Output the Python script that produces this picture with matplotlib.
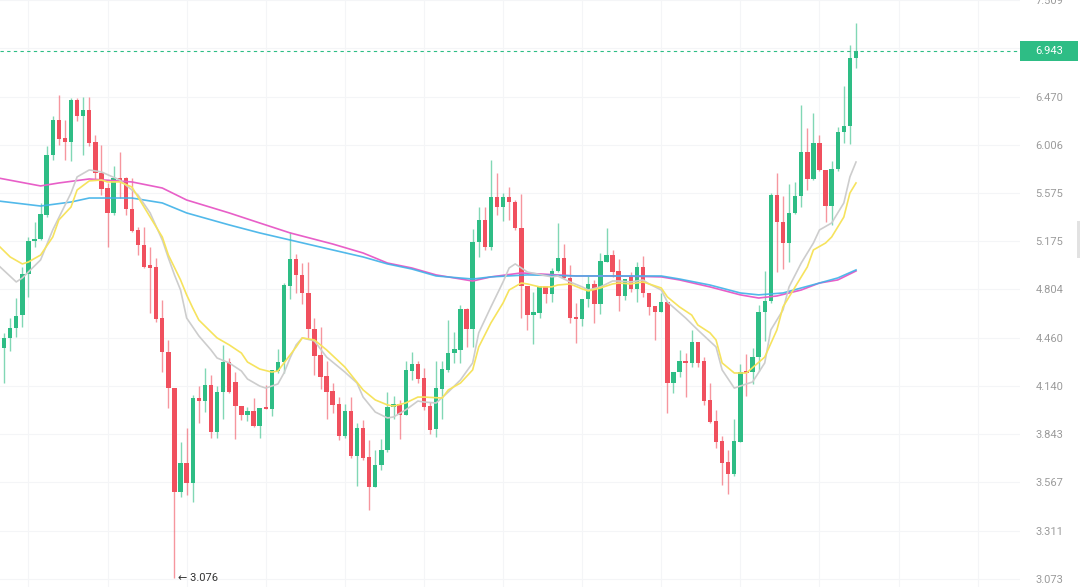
import matplotlib
matplotlib.use("Agg")
import matplotlib.pyplot as plt
from matplotlib.patches import Rectangle
from matplotlib.ticker import FixedLocator, FixedFormatter, NullLocator

# OHLC, one entry per candle
opens = [4.690, 4.389, 4.458, 4.527, 4.618, 4.920, 5.177, 5.193, 5.389, 5.912,
         6.240, 6.069, 6.032, 6.436, 6.279, 6.337, 6.032, 5.750, 5.618, 5.406,
         5.706, 5.706, 5.439, 5.266, 5.145, 4.989, 4.974, 4.597, 4.362, 4.126,
         3.515, 3.675, 3.564, 4.063, 4.044, 4.146, 3.855, 4.101, 4.295, 4.165,
         4.013, 3.958, 3.982, 3.891, 4.001, 3.995, 4.236, 4.295, 4.830, 5.035,
         4.913, 4.778, 4.520, 4.342, 4.204, 4.107, 4.026, 3.832, 3.982, 3.715,
         3.880, 3.710, 3.542, 3.664, 3.750, 4.007, 4.026, 3.958, 4.236, 4.282,
         4.191, 4.013, 3.873, 4.120, 4.243, 4.355, 4.376, 4.661, 4.520, 5.169,
         5.348, 5.129, 5.541, 5.456, 5.541, 5.498, 5.282, 4.830, 4.618, 4.633,
         4.830, 4.771, 4.943, 5.043, 4.890, 4.604, 4.590, 4.734, 4.845, 4.697,
         5.012, 5.066, 4.943, 4.756, 4.898, 4.808, 4.974, 4.778, 4.683, 4.640,
         4.712, 4.158, 4.229, 4.302, 4.289, 4.430, 4.302, 4.051, 3.922, 3.802,
         3.681, 3.614, 3.796, 4.236, 4.229, 4.328, 4.640, 4.719, 5.558, 5.331,
         5.161, 5.406, 5.550, 5.939, 5.697, 6.023, 5.777, 5.464, 5.786, 6.125,
         6.183, 6.867]
highs = [4.800, 4.493, 4.597, 4.741, 4.974, 5.209, 5.331, 5.490, 5.996, 6.279,
         6.485, 6.240, 6.456, 6.456, 6.466, 6.466, 6.097, 6.004, 5.662, 5.813,
         5.939, 5.715, 5.706, 5.290, 5.290, 5.129, 5.043, 4.727, 4.444, 4.126,
         3.796, 3.880, 4.082, 4.139, 4.256, 4.210, 4.139, 4.410, 4.322, 4.229,
         4.013, 4.007, 4.063, 4.001, 4.145, 4.243, 4.382, 4.852, 5.250, 5.074,
         5.004, 5.012, 4.597, 4.534, 4.302, 4.158, 4.069, 4.026, 4.069, 3.909,
         3.928, 3.808, 3.750, 3.814, 4.101, 4.076, 4.051, 4.302, 4.362, 4.302,
         4.256, 4.038, 4.302, 4.302, 4.583, 4.499, 4.690, 4.669, 5.274, 5.456,
         5.456, 5.866, 5.750, 5.575, 5.627, 5.515, 5.567, 4.830, 4.785, 4.830,
         4.830, 4.966, 5.323, 5.153, 4.989, 4.705, 4.734, 4.913, 4.875, 5.082,
         5.282, 5.106, 5.035, 4.882, 4.935, 5.012, 5.059, 4.778, 4.683, 4.778,
         4.712, 4.229, 4.376, 4.355, 4.513, 4.430, 4.328, 4.158, 3.989, 3.832,
         3.750, 3.934, 4.282, 4.349, 4.389, 4.690, 4.943, 5.575, 5.750, 5.550,
         5.653, 5.671, 6.386, 6.163, 6.307, 6.097, 5.777, 5.857, 6.173, 6.576,
         7.000, 7.247]
lows = [4.389, 4.158, 4.369, 4.465, 4.534, 4.749, 5.129, 5.185, 5.372, 5.866,
        6.004, 5.866, 5.858, 6.230, 5.912, 5.996, 5.688, 5.558, 5.129, 5.389,
        5.532, 5.389, 5.250, 5.066, 4.966, 4.633, 4.569, 4.229, 4.001, 3.076,
        3.487, 3.498, 3.460, 3.909, 3.976, 3.820, 3.820, 3.934, 4.095, 3.814,
        3.928, 3.922, 3.885, 3.820, 3.995, 3.952, 4.223, 4.223, 4.734, 4.778,
        4.697, 4.458, 4.210, 4.120, 3.934, 3.970, 3.808, 3.820, 3.704, 3.547,
        3.693, 3.418, 3.542, 3.636, 3.738, 3.934, 3.814, 3.958, 4.178, 4.158,
        3.989, 3.843, 3.826, 3.934, 4.229, 4.289, 4.289, 4.396, 4.396, 5.051,
        5.106, 5.106, 5.389, 5.339, 5.348, 5.266, 4.597, 4.513, 4.416, 4.597,
        4.705, 4.712, 4.935, 4.882, 4.562, 4.423, 4.541, 4.676, 4.562, 4.625,
        5.012, 4.898, 4.647, 4.727, 4.786, 4.712, 4.749, 4.618, 4.444, 4.640,
        3.970, 4.095, 4.197, 4.069, 4.262, 4.262, 4.020, 3.909, 3.761, 3.553,
        3.504, 3.603, 3.796, 4.076, 4.152, 4.236, 4.437, 4.705, 4.935, 4.958,
        5.012, 5.397, 5.456, 5.601, 5.688, 5.768, 5.331, 5.307, 5.768, 6.023,
        6.013, 6.762]
closes = [4.444, 4.458, 4.527, 4.611, 4.920, 5.177, 5.193, 5.397, 5.912, 6.240,
          6.060, 6.032, 6.436, 6.279, 6.337, 6.023, 5.750, 5.610, 5.406, 5.706,
          5.671, 5.439, 5.258, 5.145, 4.974, 4.966, 4.590, 4.362, 4.126, 3.515,
          3.675, 3.564, 4.063, 4.044, 4.146, 3.855, 4.101, 4.295, 4.101, 4.013,
          3.958, 3.982, 3.891, 4.001, 3.995, 4.243, 4.295, 4.837, 5.035, 4.913,
          4.778, 4.520, 4.335, 4.197, 4.101, 4.020, 3.832, 3.982, 3.715, 3.880,
          3.704, 3.542, 3.664, 3.750, 4.007, 4.026, 3.958, 4.243, 4.282, 4.184,
          4.007, 3.867, 4.126, 4.249, 4.355, 4.382, 4.661, 4.520, 5.169, 5.348,
          5.129, 5.541, 5.456, 5.541, 5.498, 5.282, 4.830, 4.618, 4.640, 4.830,
          4.771, 4.943, 5.043, 4.890, 4.597, 4.590, 4.734, 4.845, 4.697, 5.020,
          5.066, 4.935, 4.756, 4.882, 4.808, 4.974, 4.778, 4.676, 4.640, 4.712,
          4.158, 4.229, 4.302, 4.289, 4.430, 4.289, 4.044, 3.915, 3.796, 3.675,
          3.614, 3.802, 4.229, 4.223, 4.328, 4.640, 4.719, 5.558, 5.331, 5.161,
          5.406, 5.550, 5.939, 5.697, 6.023, 5.777, 5.464, 5.786, 6.125, 6.183,
          6.867, 6.943]

# moving average lines (candle index, value)
ma_gray_idx = [0, 3, 4, 7, 9, 12, 13, 15, 17, 20, 23, 25, 27, 28, 29, 30, 31, 33, 35, 36,
               38, 40, 41, 43, 44, 46, 47, 48, 49, 50, 52, 54, 57, 59, 60, 62, 64, 65, 67, 69,
               70, 72, 74, 76, 78, 79, 81, 83, 84, 85, 87, 91, 92, 94, 96, 97, 99, 101, 102, 104,
               106, 107, 109, 110, 113, 115, 118, 119, 121, 122, 124, 126, 127, 129, 130, 132, 134, 135, 137, 139,
               140, 141]
ma_gray = [4.989, 4.860, 4.890, 5.028, 5.266, 5.575, 5.715, 5.777, 5.759, 5.688,
           5.558, 5.406, 5.185, 5.043, 4.913, 4.800, 4.597, 4.472, 4.376, 4.322,
           4.289, 4.236, 4.184, 4.139, 4.126, 4.152, 4.223, 4.322, 4.410, 4.458,
           4.437, 4.328, 4.229, 4.158, 4.069, 3.976, 3.940, 3.946, 3.989, 4.044,
           4.038, 4.032, 4.101, 4.178, 4.289, 4.493, 4.676, 4.860, 4.966, 4.997,
           4.935, 4.898, 4.905, 4.860, 4.823, 4.800, 4.823, 4.867, 4.867, 4.860,
           4.875, 4.845, 4.800, 4.712, 4.597, 4.513, 4.396, 4.243, 4.126, 4.139,
           4.165, 4.289, 4.513, 4.654, 4.823, 5.004, 5.161, 5.266, 5.323, 5.490,
           5.715, 5.848]

ma_yellow_idx = [0, 2, 4, 5, 7, 9, 10, 12, 13, 15, 17, 18, 20, 22, 23, 25, 27, 28, 30, 31,
                 32, 33, 35, 36, 38, 40, 41, 43, 45, 46, 48, 49, 50, 52, 54, 57, 60, 62, 64, 65,
                 67, 69, 70, 73, 74, 76, 78, 79, 81, 83, 84, 86, 87, 89, 91, 92, 94, 96, 97, 99,
                 101, 102, 104, 106, 107, 109, 110, 112, 114, 115, 117, 118, 119, 121, 123, 126, 128, 129, 131, 133,
                 134, 136, 137, 139, 140, 141]
ma_yellow = [5.145, 5.051, 4.997, 5.012, 5.066, 5.209, 5.348, 5.456, 5.601, 5.680,
             5.688, 5.671, 5.671, 5.627, 5.541, 5.372, 5.209, 5.066, 4.875, 4.764,
             4.669, 4.583, 4.499, 4.458, 4.410, 4.355, 4.295, 4.249, 4.229, 4.236,
             4.342, 4.396, 4.458, 4.444, 4.376, 4.262, 4.114, 4.051, 4.020, 4.013,
             4.032, 4.069, 4.069, 4.063, 4.114, 4.158, 4.243, 4.396, 4.562, 4.705,
             4.800, 4.852, 4.845, 4.823, 4.823, 4.837, 4.845, 4.808, 4.793, 4.815,
             4.845, 4.852, 4.845, 4.860, 4.845, 4.815, 4.749, 4.676, 4.618, 4.548,
             4.493, 4.444, 4.289, 4.223, 4.223, 4.328, 4.513, 4.676, 4.823, 4.974,
             5.106, 5.161, 5.209, 5.372, 5.575, 5.662]

ma_pink_idx = [0, 7, 10, 15, 22, 27, 31, 38, 43, 48, 55, 60, 64, 68, 72, 78, 81, 86, 95, 102,
               109, 112, 117, 122, 125, 128, 132, 135, 138, 141]
ma_pink = [5.706, 5.636, 5.662, 5.697, 5.671, 5.618, 5.515, 5.406, 5.323, 5.242,
           5.153, 5.082, 5.004, 4.966, 4.913, 4.867, 4.898, 4.928, 4.905, 4.905,
           4.898, 4.875, 4.823, 4.764, 4.741, 4.756, 4.800, 4.852, 4.875, 4.943]

ma_blue_idx = [0, 7, 12, 15, 22, 27, 31, 38, 43, 48, 55, 60, 64, 68, 72, 78, 81, 87, 95, 102,
               109, 112, 117, 122, 125, 129, 132, 135, 138, 141]
ma_blue = [5.507, 5.464, 5.498, 5.532, 5.532, 5.490, 5.406, 5.307, 5.242, 5.185,
           5.106, 5.051, 4.997, 4.958, 4.905, 4.882, 4.898, 4.913, 4.905, 4.905,
           4.905, 4.882, 4.837, 4.778, 4.764, 4.778, 4.815, 4.852, 4.890, 4.951]

price_ticks = [3.073, 3.311, 3.567, 3.843, 4.140, 4.460, 4.804, 5.175, 5.575,
               6.006, 6.470, 6.970, 7.509]
vgrid_idx = [5, 18, 31, 44, 57, 70, 83, 96, 109, 122, 135, 148, 161]
last_price = 6.943
low_idx = 29
low_price = 3.076

GREEN = "#2ebd85"
RED = "#f0505e"

plt.rcParams["font.family"] = ["Roboto", "DejaVu Sans"]

fig = plt.figure(figsize=(10.8, 5.87), dpi=100)
fig.patch.set_facecolor("white")
ax = fig.add_axes([0, 0, 1020 / 1080, 1])
ax.set_yscale("log")
ax.set_ylim(3.0353, 7.509)
ax.set_xlim(0.33, 167.95)

# candles
for i in range(len(opens)):
    o, h, l, c = opens[i], highs[i], lows[i], closes[i]
    col = GREEN if c >= o else RED
    ax.vlines(i, l, h, color=col, lw=1.0, alpha=0.6, zorder=2)
    lo, hi = min(o, c), max(o, c)
    hgt = max(hi - lo, lo * 0.0025)
    ax.bar(i, hgt, bottom=lo, width=0.72, color=col, lw=0, zorder=2.5)

# moving averages
ax.plot(ma_pink_idx, ma_pink, color="#e85fc8", lw=1.2, zorder=3, solid_joinstyle="round")
ax.plot(ma_blue_idx, ma_blue, color="#3fb2e8", lw=1.2, alpha=0.9, zorder=3.1, solid_joinstyle="round")
ax.plot(ma_gray_idx, ma_gray, color="#cdcdcd", lw=1.2, zorder=3.2, solid_joinstyle="round")
ax.plot(ma_yellow_idx, ma_yellow, color="#f6e35e", lw=1.2, zorder=3.3, solid_joinstyle="round")

# last price dashed line
ax.axhline(last_price, color=GREEN, lw=0.8, ls=(0, (3, 3)), zorder=4)

# low marker
ax.text(low_idx + 0.55, low_price, "\u2190 3.076", va="center", ha="left",
        fontsize=8, color="#333333", zorder=5)

# axes styling
ax.yaxis.tick_right()
ax.yaxis.set_major_locator(FixedLocator(price_ticks))
ax.yaxis.set_major_formatter(FixedFormatter([f"{t:.3f}" for t in price_ticks]))
ax.yaxis.set_minor_locator(NullLocator())
ax.tick_params(axis="y", length=0, pad=11, labelsize=8, labelcolor="#9b9b9b")
ax.set_xticks(vgrid_idx)
ax.set_xticklabels([])
ax.tick_params(axis="x", length=0)
ax.grid(True, color="#f4f5f7", lw=0.8, zorder=0)
ax.set_axisbelow(True)
for s in ax.spines.values():
    s.set_visible(False)

# price tag on the right
fig.canvas.draw()
y_disp = ax.transData.transform((0, last_price))[1]
y_fig = y_disp / fig.bbox.height
tag_h = 20 / 587
fig.add_artist(Rectangle((1020 / 1080, y_fig - tag_h / 2), 58 / 1080, tag_h,
                         transform=fig.transFigure, color=GREEN, lw=0, zorder=6))
fig.text(1035 / 1080, y_fig, f"{last_price:.3f}", color="white", fontsize=8,
         va="center", ha="left", zorder=7)

# small scroll handle at right edge
fig.add_artist(Rectangle((1077 / 1080, (587 - 258) / 587), 3 / 1080, 37 / 587,
                         transform=fig.transFigure, color="#e2e2e2", lw=0, zorder=6))

fig.savefig("out.png", dpi=100, facecolor="white")
